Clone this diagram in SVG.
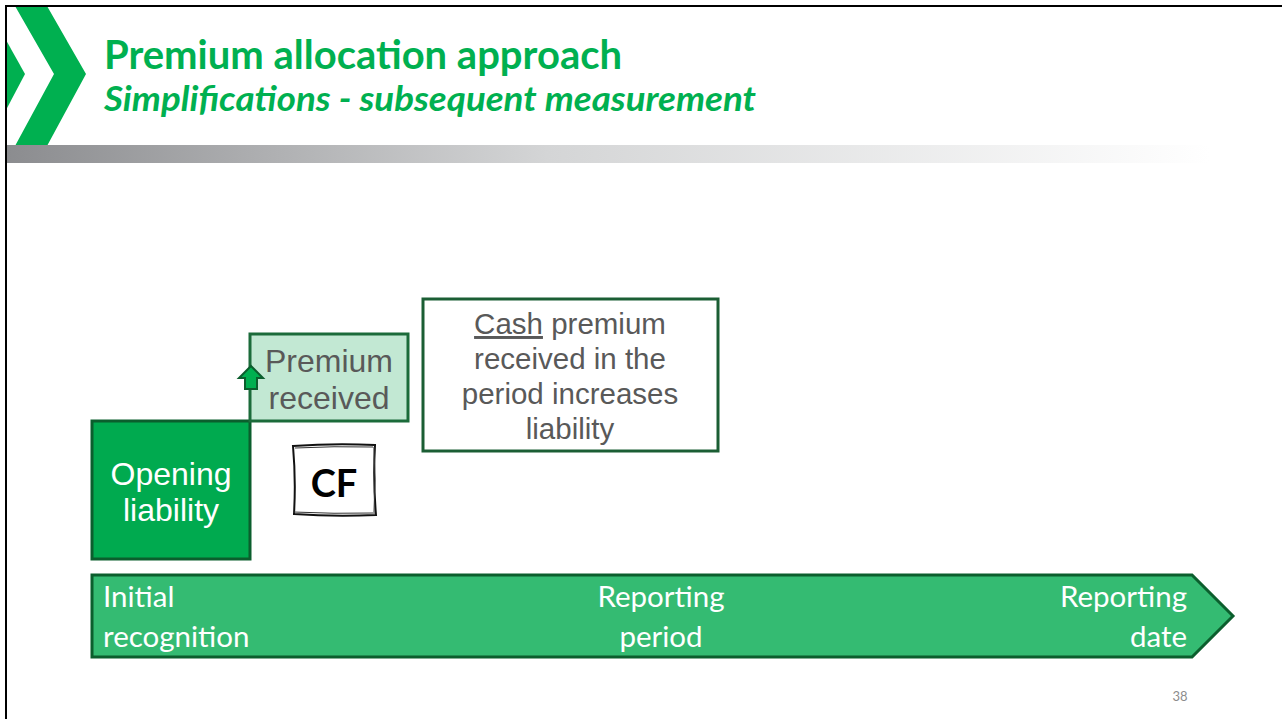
<svg xmlns="http://www.w3.org/2000/svg" width="1282" height="719" viewBox="0 0 1282 719">
  <defs>
    <linearGradient id="bar" x1="0" y1="0" x2="1" y2="0">
      <stop offset="0" stop-color="#8b8c8f"/>
      <stop offset="0.45" stop-color="#d4d5d6"/>
      <stop offset="1" stop-color="#ffffff"/>
    </linearGradient>
  </defs>
  <style>
    .title { font-family: Lato, "Open Sans", sans-serif; font-weight: bold; fill: #00b050; }
    .body { font-family: "Liberation Sans", Arial, sans-serif; font-size: 32px; text-anchor: middle; }
    .note { font-family: "Liberation Sans", Arial, sans-serif; font-size: 29.5px; text-anchor: middle; fill: #595959; }
    .axis { font-family: Lato, "Open Sans", sans-serif; font-size: 29.5px; fill: #ffffff; }
    .frame { fill: none; stroke: #000000; stroke-width: 2; }
  </style>

  <rect width="1282" height="719" fill="#ffffff"/>

  <!-- header: chevrons, title, gradient bar -->
  <g id="header">
    <polygon points="6,40 25,74 6,110" fill="#00b050"/>
    <polygon points="15,6 47,6 86,74 47,146 15,146 54,74" fill="#00b050"/>
    <rect x="5" y="145" width="1205" height="18" fill="url(#bar)"/>
    <text class="title" x="104" y="69" font-size="40" textLength="518" lengthAdjust="spacingAndGlyphs">Premium allocation approach</text>
    <text class="title" x="104" y="111" font-size="35" font-style="italic" textLength="652" lengthAdjust="spacingAndGlyphs">Simplifications - subsequent measurement</text>
  </g>
  <path class="frame" d="M1282,6 H6 V719"/>

  <!-- timeline arrow -->
  <g id="timeline">
    <polygon points="92,575 1192,575 1233,616 1192,657 92,657" fill="#34bb72" stroke="#0b5e2d" stroke-width="3"/>
    <text class="axis" x="103" y="607">Initial</text>
    <text class="axis" x="103" y="647">recognition</text>
    <text class="axis" x="661" y="607" text-anchor="middle">Reporting</text>
    <text class="axis" x="661" y="647" text-anchor="middle">period</text>
    <text class="axis" x="1187" y="607" text-anchor="end">Reporting</text>
    <text class="axis" x="1187" y="647" text-anchor="end">date</text>
  </g>

  <!-- opening liability block -->
  <g id="opening">
    <rect x="92" y="421" width="158" height="138" fill="#00aa4f" stroke="#0b5e2d" stroke-width="3"/>
    <text class="body" x="171" y="485" fill="#ffffff">Opening</text>
    <text class="body" x="171" y="521" fill="#ffffff">liability</text>
  </g>

  <!-- premium received block -->
  <g id="premium">
    <rect x="250" y="334" width="158" height="87" fill="#c2e8d3" stroke="#1b6b3a" stroke-width="3"/>
    <text class="body" x="329" y="372" fill="#595959">Premium</text>
    <text class="body" x="329" y="409" fill="#595959">received</text>
  </g>

  <!-- small up arrow -->
  <g id="increase-arrow">
    <polygon points="251,366 263,378 257,378 257,389 245,389 245,378 239,378" fill="#00b050" stroke="#0b5e2d" stroke-width="2" stroke-linejoin="miter"/>
  </g>

  <!-- explanation box -->
  <g id="note">
    <rect x="423" y="299" width="295" height="152" fill="#ffffff" stroke="#1b5e34" stroke-width="3"/>
    <text class="note" x="570" y="334"><tspan text-decoration="underline">Cash</tspan> premium</text>
    <text class="note" x="570" y="369">received in the</text>
    <text class="note" x="570" y="404">period increases</text>
    <text class="note" x="570" y="439">liability</text>
  </g>

  <!-- hand-drawn CF tag -->
  <g id="cf">
    <path d="M293,446 Q334,443 375,445 Q373,480 376,515 Q334,517 294,514 Q296,480 293,446 Z" fill="#ffffff" stroke="#111111" stroke-width="2"/>
    <path d="M295,448 Q334,446 373,447 M374,447 Q376,480 374,512 M293,512 Q334,514 375,513" fill="none" stroke="#333333" stroke-width="1"/>
    <text x="334" y="497" font-family="Lato, 'Open Sans', sans-serif" font-weight="bold" font-size="38" text-anchor="middle" fill="#000000">CF</text>
  </g>

  <text x="1180" y="701" font-family="Lato, 'Open Sans', sans-serif" font-size="13" fill="#8c8c8c" text-anchor="middle">38</text>
</svg>
